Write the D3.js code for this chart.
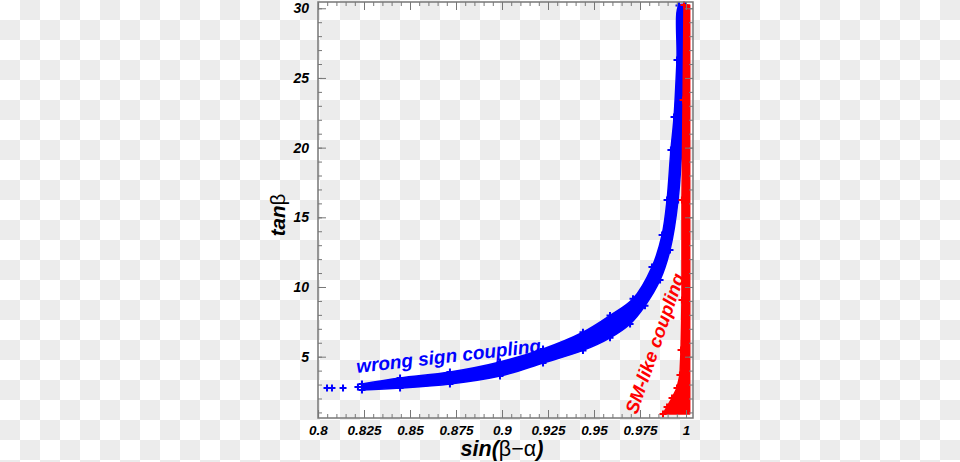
<!DOCTYPE html>
<html><head><meta charset="utf-8">
<script src="https://cdn.jsdelivr.net/npm/d3@7"></script>
<style>body{margin:0;background:#fff} svg{display:block}</style>
</head><body>
<svg id="c" width="960" height="462"></svg>
<script>
// ---- data ----
const xMajorTicks = [0.8, 0.825, 0.85, 0.875, 0.9, 0.925, 0.95, 0.975, 1.0];
const xTickLabels = ["0.8", "0.825", "0.85", "0.875", "0.9", "0.925", "0.95", "0.975", "1"];
const yMajorTicks = [5, 10, 15, 20, 25, 30];
const yTickLabels = ["5", "10", "15", "20", "25", "30"];

// wrong sign coupling band: outer (upper-left) edge and inner (lower-right) edge, [sin(b-a), tanb]
const blueOuterEdge = [[0.8239,3.04],[0.8446,3.47],[0.8717,3.90],[0.8989,4.62],[0.9223,5.55],[0.9440,6.75],[0.9587,7.95],[0.9712,9.15],[0.9815,11.43],[0.9870,13.73],[0.9897,16.24],[0.9918,19.83],[0.9935,22.19],[0.9951,26.28],[0.9962,30.2]];
const blueInnerEdge = [[0.8239,2.61],[0.8446,2.75],[0.8717,3.04],[0.8989,3.61],[0.9223,4.55],[0.9440,5.45],[0.9587,6.35],[0.9696,7.35],[0.9777,8.65],[0.9859,10.5],[0.9913,12.65],[0.9957,16.24],[0.9985,22.19],[0.9993,26.28],[0.9995,30.2]];
const blueSparse = [[0.8049,2.75],[0.8076,2.75],[0.8136,2.75],[0.8217,2.82]];

// SM-like coupling band
const redLeftEdge = [[0.9875,0.89],[0.9897,1.39],[0.9924,2.03],[0.9951,2.75],[0.9967,3.68],[0.9973,5.48],[0.9978,9.06],[0.9978,16.24],[0.9984,23.41],[0.9989,30.23]];
const redRightEdge = [[1.0020,0.89],[1.0020,30.23]];

// ---- drawing ----
const svg = d3.select("#c");
const W = 960, H = 462;
const L = 318, R = 693, T = 2, B = 418;

// transparent-background checkerboard
const defs = svg.append("defs");
const pat = defs.append("pattern").attr("id","chk").attr("width",40).attr("height",40).attr("patternUnits","userSpaceOnUse");
pat.append("rect").attr("width",40).attr("height",40).attr("fill","#ffffff");
pat.append("rect").attr("x",20).attr("y",0).attr("width",20).attr("height",20).attr("fill","#ececec");
pat.append("rect").attr("x",0).attr("y",20).attr("width",20).attr("height",20).attr("fill","#ececec");
svg.append("rect").attr("width",W).attr("height",H).attr("fill","url(#chk)");

const x = d3.scaleLinear().domain([0.8, 1.0038]).range([L, R]);
const y = d3.scaleLinear().domain([0.6, 30.45]).range([B, T]);

const smooth = d3.line().x(d => x(d[0])).y(d => y(d[1])).curve(d3.curveCatmullRom);
const straight = d3.line().x(d => x(d[0])).y(d => y(d[1]));
const plus = "M-3.5,0H3.5M0,-3.5V3.5";

// blue band
const bluePoly = blueOuterEdge.concat(blueInnerEdge.slice().reverse());
svg.append("path").attr("d", smooth(bluePoly) + "Z")
  .attr("fill", "#0000ff").attr("stroke", "#0000ff").attr("stroke-width", 1.5).attr("stroke-linejoin","round");
svg.selectAll(".bs").data(blueSparse.concat(blueOuterEdge, blueInnerEdge)).enter().append("path")
  .attr("d", plus).attr("transform", d => `translate(${x(d[0])},${y(d[1])})`)
  .attr("stroke", "#0000ff").attr("stroke-width", 2).attr("fill","none");

// red band
const redPoly = redLeftEdge.concat(redRightEdge.slice().reverse());
svg.append("path").attr("d", straight(redPoly) + "Z")
  .attr("fill", "#ff0000").attr("stroke", "#ff0000").attr("stroke-width", 1.5).attr("stroke-linejoin","round");
svg.selectAll(".rs").data(redLeftEdge).enter().append("path")
  .attr("d", plus).attr("transform", d => `translate(${x(d[0])},${y(d[1])})`)
  .attr("stroke", "#ff0000").attr("stroke-width", 2).attr("fill","none");

// axes
const axisColor = "#777";
const xMinor = d3.range(0, 41).map(i => 0.8 + i * 0.005);
const yMinor = d3.range(1, 31);
function style(g) {
  g.select(".domain").remove();
  g.selectAll(".tick line").attr("stroke", axisColor).attr("stroke-width", 1);
  g.selectAll("text").attr("fill", "#000").attr("font-family", "'Liberation Sans', Arial, sans-serif")
    .attr("font-weight", "bold").attr("font-style", "italic");
}
svg.append("g").attr("transform", `translate(0,${B})`)
  .call(d3.axisBottom(x).tickValues(xMinor).tickSize(-4).tickFormat("")).call(style);
svg.append("g").attr("transform", `translate(0,${B})`)
  .call(d3.axisBottom(x).tickValues(xMajorTicks).tickSize(-8).tickPadding(7).tickFormat((d,i) => xTickLabels[i]))
  .call(style).selectAll("text").attr("font-size", 13.5);
svg.append("g").attr("transform", `translate(0,${T})`)
  .call(d3.axisTop(x).tickValues(xMinor).tickSize(-4).tickFormat("")).call(style);
svg.append("g").attr("transform", `translate(0,${T})`)
  .call(d3.axisTop(x).tickValues(xMajorTicks).tickSize(-8).tickFormat("")).call(style);
svg.append("g").attr("transform", `translate(${L},0)`)
  .call(d3.axisLeft(y).tickValues(yMinor).tickSize(-4).tickFormat("")).call(style);
svg.append("g").attr("transform", `translate(${L},0)`)
  .call(d3.axisLeft(y).tickValues(yMajorTicks).tickSize(-8).tickPadding(9).tickFormat((d,i) => yTickLabels[i]))
  .call(style).selectAll("text").attr("font-size", 14);
svg.append("g").attr("transform", `translate(${R},0)`)
  .call(d3.axisRight(y).tickValues(yMinor).tickSize(-4).tickFormat("")).call(style);
svg.append("g").attr("transform", `translate(${R},0)`)
  .call(d3.axisRight(y).tickValues(yMajorTicks).tickSize(-8).tickFormat("")).call(style);

// frame
svg.append("rect").attr("x", L).attr("y", T).attr("width", R - L).attr("height", B - T)
  .attr("fill", "none").attr("stroke", axisColor).attr("stroke-width", 1.5);

// axis titles
const ff = "'Liberation Sans', Arial, sans-serif";
const xt = svg.append("text").attr("x", 502).attr("y", 456).attr("text-anchor", "middle")
  .attr("font-family", ff).attr("font-size", 21.5).attr("fill", "#000");
xt.append("tspan").attr("font-weight","bold").attr("font-style","italic").text("sin(");
xt.append("tspan").text("β−α");
xt.append("tspan").attr("font-weight","bold").attr("font-style","italic").text(")");

const yt = svg.append("text").attr("transform", "translate(285,215) rotate(-90)").attr("text-anchor", "middle")
  .attr("font-family", ff).attr("font-size", 20.5).attr("fill", "#000");
yt.append("tspan").attr("font-weight","bold").attr("font-style","italic").text("tan");
yt.append("tspan").text("β");

// annotations
svg.append("text").attr("transform", "translate(357,373) rotate(-6.5)")
  .attr("font-family", ff).attr("font-size", 19).attr("font-weight","bold").attr("font-style","italic")
  .attr("fill", "#0000ff").text("wrong sign coupling");
svg.append("text").attr("transform", "translate(637,415) rotate(-71)")
  .attr("font-family", ff).attr("font-size", 18.5).attr("font-weight","bold").attr("font-style","italic")
  .attr("fill", "#ff0000").text("SM-like coupling");
</script>
</body></html>
